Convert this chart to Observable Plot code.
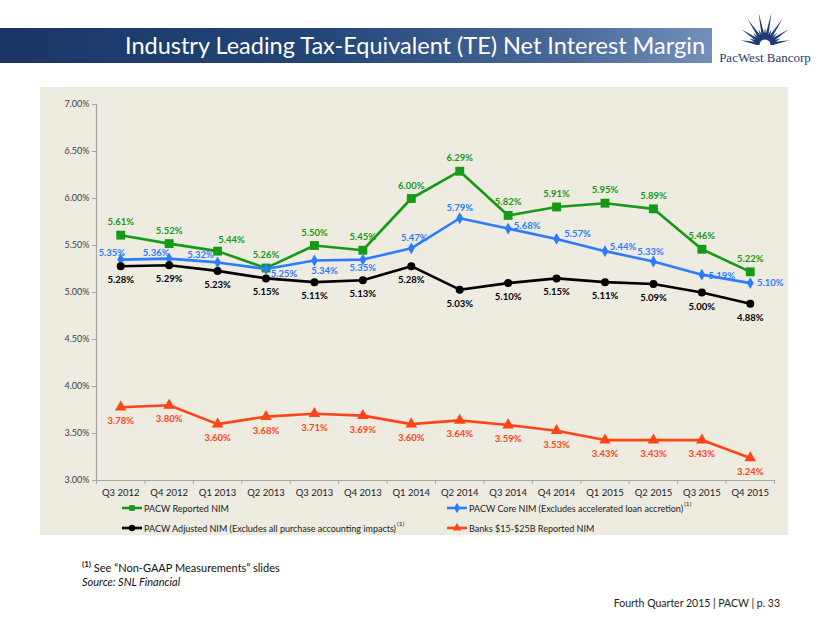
<!DOCTYPE html>
<html><head><meta charset="utf-8">
<script src="https://cdn.jsdelivr.net/npm/d3@7"></script>
<script src="https://cdn.jsdelivr.net/npm/@observablehq/plot@0.6"></script>
<style>
body{margin:0;background:#fff;font-family:Lato,"Open Sans",sans-serif;}
#page{position:relative;width:830px;height:623px;overflow:hidden;background:#fff;}
#bar{position:absolute;left:0;top:28px;width:712px;height:35px;background:linear-gradient(90deg,#193566 0%,#234679 45%,#4a6b99 80%,#7290ba 100%);}
#title{position:absolute;right:7px;top:2px;color:#fff;font-size:23.5px;line-height:30px;white-space:nowrap;font-family:Lato,sans-serif;}
#logo{position:absolute;left:715px;top:4px;}
#panel{position:absolute;left:40px;top:87px;width:748px;height:448px;background:#eeebe1;}
#chart{position:absolute;left:0;top:0;}
.leg{position:absolute;display:flex;align-items:center;font-size:9px;color:#222;white-space:nowrap;}
.leg svg{margin-right:2px;}
.sup{position:relative;font-size:6.5px;margin-left:1px;}
#foot1{position:absolute;left:82px;top:559px;font-size:11px;color:#111;}
#foot2{position:absolute;left:82px;top:575px;font-size:11px;color:#111;font-style:italic;}
#foot3{position:absolute;right:50px;top:597px;font-size:10.5px;color:#222;}
</style></head>
<body>
<div id="page">
  <div id="bar"><div id="title">Industry Leading Tax-Equivalent (TE) Net Interest Margin</div></div>
  <svg id="logo" width="110" height="66"></svg>
  <div id="panel"></div>
  <div id="chart"></div>
  <div id="legend"></div>
  <div id="foot1"><sup style="font-weight:bold;font-size:8px">(1)</sup> See “Non-GAAP Measurements” slides</div>
  <div id="foot2">Source: SNL Financial</div>
  <div id="foot3">Fourth Quarter 2015 | PACW | p. 33</div>
</div>
<script>
// ---------- data ----------
const quarters = ["Q3 2012","Q4 2012","Q1 2013","Q2 2013","Q3 2013","Q4 2013","Q1 2014","Q2 2014","Q3 2014","Q4 2014","Q1 2015","Q2 2015","Q3 2015","Q4 2015"];
const reportedNIM = [5.61,5.52,5.44,5.26,5.50,5.45,6.00,6.29,5.82,5.91,5.95,5.89,5.46,5.22];
const coreNIM     = [5.35,5.36,5.32,5.25,5.34,5.35,5.47,5.79,5.68,5.57,5.44,5.33,5.19,5.10];
const adjustedNIM = [5.28,5.29,5.23,5.15,5.11,5.13,5.28,5.03,5.10,5.15,5.11,5.09,5.00,4.88];
const banksNIM    = [3.78,3.80,3.60,3.68,3.71,3.69,3.60,3.64,3.59,3.53,3.43,3.43,3.43,3.24];
const seriesNames = ["PACW Reported NIM","PACW Core NIM (Excludes accelerated loan accretion)","PACW Adjusted NIM (Excludes all purchase accounting impacts)","Banks $15-$25B Reported NIM"];
const yTicks = [3.0,3.5,4.0,4.5,5.0,5.5,6.0,6.5,7.0];

// ---------- styling / layout ----------
const fmt = v => v.toFixed(2) + "%";
const series = [
  {name: seriesNames[0], values: reportedNIM, color: "#149a14", symbol: "square", r: 5,
   offsets: quarters.map((_, i) => i === 2 ? [14, -11] : [0, -13])},
  {name: seriesNames[1], values: coreNIM, color: "#2b7cff", symbol: "diamond", r: 3.6,
   offsets: [[-9,-7],[-13,-6],[-17,-7],[18,5],[10,10],[0,8],[3,-10],[0,-10],[19,-3],[21,-5],[18,-4],[-3,-10],[20,1],[20,0]]},
  {name: seriesNames[2], values: adjustedNIM, color: "#000000", symbol: "circle", r: 4,
   offsets: quarters.map(() => [0, 14])},
  {name: seriesNames[3], values: banksNIM, color: "#ff4516", symbol: "triangle", r: 4.3,
   offsets: quarters.map(() => [0, 14])}
];
const seriesRows = series.map(s => s.values.map((v, i) => ({i, v, q: quarters[i], s: s.name})));
const idx = quarters.map((_, i) => i);
const bounds = [...idx.map(i => i - 0.5), quarters.length - 0.5];

const marks = [
  Plot.ruleX([-0.5], {stroke: "#a6a6a6", strokeWidth: 1.2}),
  Plot.ruleY([3], {stroke: "#a6a6a6", strokeWidth: 1.2}),
  Plot.axisY({ticks: yTicks, tickFormat: fmt, tickSize: 4, tickPadding: 3, stroke: "#a6a6a6", fill: "#404040", fontSize: 9, label: null}),
  Plot.axisX({ticks: bounds, tickFormat: () => "", tickSize: 4, stroke: "#a6a6a6", label: null}),
  Plot.axisX({ticks: idx, tickFormat: i => quarters[i], tickSize: 0, tickPadding: 9, fill: "#222", fontSize: 9.5, label: null})
];
series.forEach((s, k) => {
  const rows = seriesRows[k];
  marks.push(Plot.line(rows, {x: "i", y: "v", stroke: s.color, strokeWidth: 2.6}));
  marks.push(Plot.dot(rows, {x: "i", y: "v", fill: s.color, symbol: () => s.symbol, r: s.r, stroke: "none"}));
  rows.forEach((d, i) => {
    const [dx, dy] = s.offsets[i];
    marks.push(Plot.text([d], {x: "i", y: "v", text: d => fmt(d.v), dx, dy, fill: s.color, fontWeight: "bold", fontSize: 9.5}));
  });
});

const chart = Plot.plot({
  width: 830, height: 505,
  marginLeft: 96, marginRight: 56, marginTop: 104, marginBottom: 25,
  style: {background: "transparent", fontFamily: "Lato, 'Open Sans', sans-serif"},
  x: {domain: [-0.5, quarters.length - 0.5], axis: null},
  y: {domain: [3, 7], axis: null},
  marks
});
document.getElementById("chart").append(chart);

// ---------- legend ----------
const legPos = [[122, 502], [447, 502], [122, 522], [447, 522]];
const legSup = [false, true, true, false];
const leg = document.getElementById("legend");
series.forEach((s, k) => {
  const el = document.createElement("div");
  el.className = "leg";
  el.style.left = legPos[k][0] + "px";
  el.style.top = legPos[k][1] + "px";
  const sym = d3.symbol(s.symbol === "square" ? d3.symbolSquare : s.symbol === "diamond" ? d3.symbolDiamond : s.symbol === "circle" ? d3.symbolCircle : d3.symbolTriangle, Math.PI * 3.2 * 3.2)();
  el.innerHTML = `<svg width="20" height="12"><line x1="0" x2="20" y1="6" y2="6" stroke="${s.color}" stroke-width="2.6"/><path d="${sym}" transform="translate(10,6)" fill="${s.color}"/></svg><span>${s.name}</span>` +
    (legSup[k] ? `<span class="sup" style="top:-5px">(1)</span>` : "");
  leg.append(el);
});

// ---------- logo ----------
const logo = d3.select("#logo");
const cx = 50, cy = 41, navy = "#1f3c72";
const nRays = 15;
for (let j = 0; j < nRays; j++) {
  const a = Math.PI * (0.94 - 0.88 * j / (nRays - 1));
  const len = j % 2 === 0 ? (j === 7 ? 35 : 25 + 8 * Math.sin(Math.PI * j / (nRays - 1))) : 17;
  const w = 0.2;
  const r0 = 8;
  const p = [[cx + r0 * Math.cos(a - w), cy - r0 * Math.sin(a - w)], [cx + len * Math.cos(a), cy - len * Math.sin(a)], [cx + r0 * Math.cos(a + w), cy - r0 * Math.sin(a + w)]];
  logo.append("path").attr("d", "M" + p.join("L") + "Z").attr("fill", navy);
}
logo.append("path").attr("d", d3.arc()({innerRadius: 5.5, outerRadius: 9, startAngle: -Math.PI / 2, endAngle: Math.PI / 2})).attr("transform", `translate(${cx},${cy})`).attr("fill", navy);
logo.append("text").attr("x", 50).attr("y", 58).attr("text-anchor", "middle").attr("font-family", "'Liberation Serif', serif").attr("font-size", 13).attr("fill", navy).text("PacWest Bancorp");
</script>
</body></html>
